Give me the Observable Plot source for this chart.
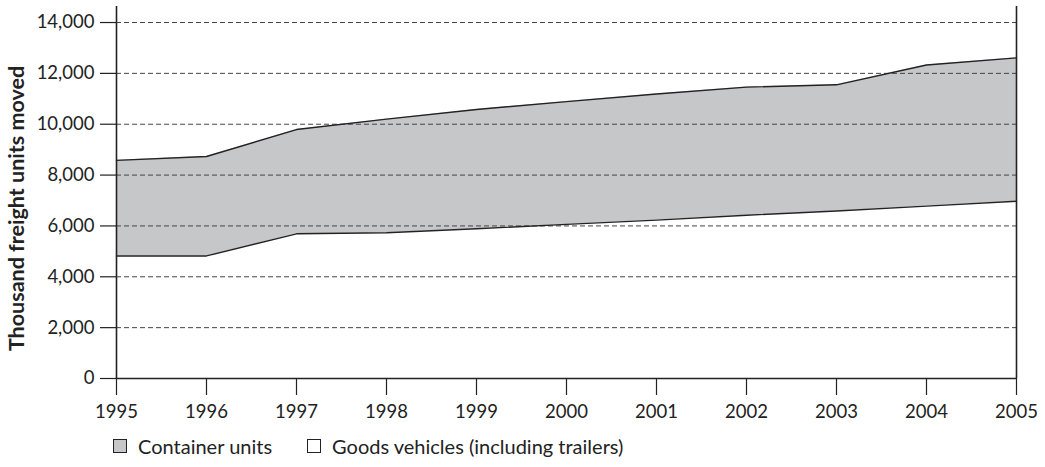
<!DOCTYPE html>
<html>
<head>
<meta charset="utf-8">
<script src="https://cdn.jsdelivr.net/npm/d3@7"></script>
<script src="https://cdn.jsdelivr.net/npm/@observablehq/plot@0.6"></script>
<style>
  html, body { margin: 0; padding: 0; background: #fff; }
  body { width: 1045px; height: 467px; overflow: hidden; font-family: Lato, "Open Sans", sans-serif; }
  #legend { position: absolute; left: 113px; top: 434px; display: flex; align-items: center; font-size: 20px; color: #222; }
  .item { display: flex; align-items: center; margin-right: 35px; }
  .sw { width: 12px; height: 12px; border: 1px solid #222; margin-right: 11px; }
</style>
</head>
<body>
<div id="chart"></div>
<div id="legend"></div>
<script>
const years = [1995, 1996, 1997, 1998, 1999, 2000, 2001, 2002, 2003, 2004, 2005];
const goodsVehicles = [4820, 4820, 5690, 5730, 5890, 6060, 6230, 6420, 6590, 6780, 6970];
const containerUnits = [3760, 3910, 4100, 4470, 4690, 4830, 4960, 5040, 4960, 5550, 5640];
const seriesNames = ["Goods vehicles (including trailers)", "Container units"];
const seriesColors = ["#ffffff", "#c6c7c9"];
const yTicks = [0, 2000, 4000, 6000, 8000, 10000, 12000, 14000];
const yLabel = "Thousand freight units moved";

const data = [];
years.forEach((yr, i) => {
  data.push({year: yr, series: seriesNames[0], value: goodsVehicles[i]});
  data.push({year: yr, series: seriesNames[1], value: containerUnits[i]});
});
const totals = years.map((yr, i) => ({year: yr, lower: goodsVehicles[i], upper: goodsVehicles[i] + containerUnits[i]}));

const fmt = d3.format(",");
const chart = Plot.plot({
  width: 1045,
  height: 430,
  marginLeft: 116,
  marginRight: 29,
  marginTop: 6,
  marginBottom: 52,
  style: {fontFamily: "Lato, 'Open Sans', sans-serif", fontSize: "18px", color: "#222", background: "#fff"},
  x: {domain: [1995, 2005]},
  y: {domain: [0, 14630]},
  color: {domain: seriesNames, range: seriesColors},
  marks: [
    Plot.areaY(data, Plot.stackY({x: "year", y: "value", fill: "series", order: seriesNames, curve: "linear"})),
    Plot.ruleY(yTicks.filter(d => d > 0), {stroke: "#444", strokeWidth: 1, strokeDasharray: "5,3"}),
    Plot.lineY(totals, {x: "year", y: "lower", stroke: "#222", strokeWidth: 1.4}),
    Plot.lineY(totals, {x: "year", y: "upper", stroke: "#222", strokeWidth: 1.4}),
    Plot.ruleX([years[0], years[years.length - 1]], {stroke: "#222", strokeWidth: 1.6}),
    Plot.ruleY([0], {stroke: "#222", strokeWidth: 1.4}),
    Plot.axisX({ticks: years, tickFormat: d => String(d), tickSize: 17, tickPadding: 9, stroke: "#222", strokeWidth: 1.2, label: null, fontSize: 18.5}),
    Plot.axisY({ticks: yTicks, tickFormat: fmt, tickSize: 16, tickPadding: 6, stroke: "#222", strokeWidth: 1.2, label: null, fontSize: 18.5}),
    Plot.text([yLabel], {frameAnchor: "left", dx: -99, dy: 16, rotate: -90, fontWeight: "bold", fontSize: 21.5, fill: "#222", textAnchor: "middle"})
  ]
});
document.getElementById("chart").appendChild(chart);

const legend = document.getElementById("legend");
[1, 0].forEach(i => {
  const it = document.createElement("div");
  it.className = "item";
  const sw = document.createElement("div");
  sw.className = "sw";
  sw.style.background = seriesColors[i];
  const lb = document.createElement("span");
  lb.textContent = seriesNames[i];
  it.appendChild(sw); it.appendChild(lb);
  legend.appendChild(it);
});
</script>
</body>
</html>
